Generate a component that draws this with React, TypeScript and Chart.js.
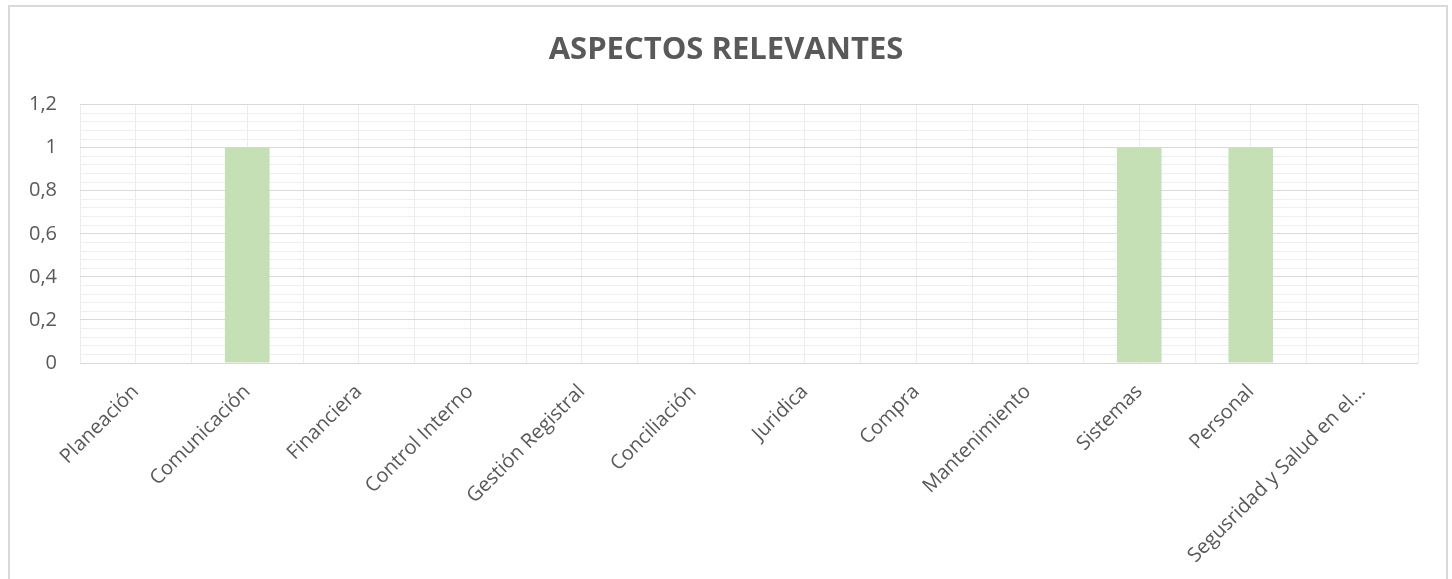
import React, { useEffect, useRef } from "react";
import { Chart, registerables } from "chart.js";

Chart.register(...registerables);

const TITLE = "ASPECTOS RELEVANTES";
const categories = [
  "Planeación",
  "Comunicación",
  "Financiera",
  "Control Interno",
  "Gestión Registral",
  "Conciliación",
  "Juridica",
  "Compra",
  "Mantenimiento",
  "Sistemas",
  "Personal",
  "Segusridad y Salud en el…",
];
const values = [0, 1, 0, 0, 0, 0, 0, 0, 0, 1, 1, 0];
const yMin = 0;
const yMax = 1.2;
const yMajorStep = 0.2;
const yMinorStep = 0.04;

const TEXT = "#595959";
const FONT = "'Open Sans', sans-serif";

function isMajor(v: number): boolean {
  const r = v / yMajorStep;
  return Math.abs(r - Math.round(r)) < 1e-6;
}

export default function App() {
  const ref = useRef<HTMLCanvasElement | null>(null);

  useEffect(() => {
    if (!ref.current) return;
    const chart = new Chart(ref.current, {
      type: "bar",
      data: {
        labels: categories,
        datasets: [
          {
            data: values,
            backgroundColor: "#C5E0B4",
            borderWidth: 0,
            categoryPercentage: 1,
            barPercentage: 0.4,
          },
        ],
      },
      options: {
        responsive: true,
        maintainAspectRatio: false,
        animation: false,
        layout: { padding: { left: 0, right: 0, top: 0, bottom: 0 } },
        plugins: {
          legend: { display: false },
          tooltip: { enabled: false },
          title: {
            display: true,
            text: TITLE,
            color: TEXT,
            font: { family: FONT, size: 31, weight: "bold", lineHeight: 1.2 },
            padding: { top: 31.5, bottom: 35.9 },
          },
        },
        scales: {
          x: {
            type: "category",
            offset: true,
            grid: { display: true, offset: false, color: "#ececec", drawTicks: false },
            border: { display: false },
            ticks: {
              autoSkip: false,
              minRotation: 45,
              maxRotation: 45,
              color: TEXT,
              font: { family: FONT, size: 20 },
              padding: 17,
            },
            afterFit: (scale: any) => {
              scale.height = 216;
            },
          },
          x2: {
            type: "category",
            position: "top",
            offset: true,
            labels: categories,
            grid: { display: true, offset: true, color: "#ececec", drawTicks: false },
            border: { display: false },
            ticks: { display: false },
          },
          y: {
            min: yMin,
            max: yMax,
            grid: {
              drawTicks: false,
              color: (ctx: any) =>
                ctx.tick && isMajor(ctx.tick.value) ? "#d9d9d9" : "#efefef",
              lineWidth: 1,
            },
            border: { display: false },
            ticks: {
              stepSize: yMinorStep,
              autoSkip: false,
              color: TEXT,
              font: { family: FONT, size: 20 },
              padding: 23,
              callback: (v: any) => {
                const n = Number(v);
                if (!isMajor(n)) return "";
                const r = Math.round(n * 100) / 100;
                return String(r).replace(".", ",");
              },
            },
            afterFit: (scale: any) => {
              scale.width = 80;
            },
          },
          ySpacer: {
            position: "right",
            min: yMin,
            max: yMax,
            grid: { display: false, drawTicks: false },
            border: { display: false },
            ticks: { display: false },
            afterFit: (scale: any) => {
              scale.width = 34;
            },
          },
        },
      },
    });
    return () => chart.destroy();
  }, []);

  return (
    <div
      style={{
        position: "fixed",
        left: 0,
        top: 0,
        width: 1452,
        height: 579,
        overflow: "hidden",
        background: "#ffffff",
      }}
    >
      <canvas ref={ref} style={{ position: "absolute", left: 0, top: 0 }} />
      <div
        style={{
          position: "absolute",
          left: 8,
          top: 5,
          width: 1440,
          height: 700,
          border: "2px solid #d9d9d9",
          boxSizing: "border-box",
          pointerEvents: "none",
        }}
      />
    </div>
  );
}
